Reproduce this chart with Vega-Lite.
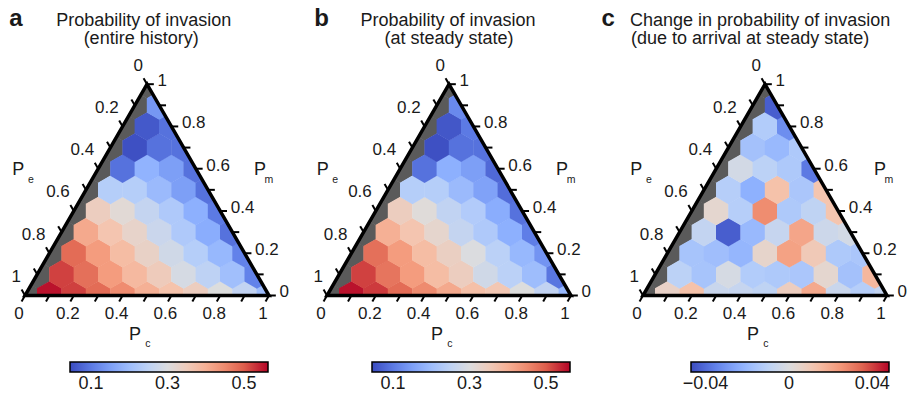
{
"$schema": "https://vega.github.io/schema/vega-lite/v6.json",
"padding": 0,
"spacing": 0,
"bounds": "flush",
"background": "white",
"config": {
  "view": {"stroke": null},
  "text": {"font": "Liberation Sans", "color": "#1a1a1a"},
  "legend": {"gradientStrokeColor": "black", "gradientStrokeWidth": 1.5, "gradientThickness": 10, "gradientLength": 198, "labelFontSize": 18, "labelFont": "Liberation Sans", "labelColor": "#1a1a1a", "labelOffset": 3, "direction": "horizontal", "orient": "none"}
},
"resolve": {"scale": {"color": "independent", "x": "independent"}, "legend": {"color": "independent"}},
"datasets": {
  "grey": [{"pc":0,"pm":0},{"pc":0,"pm":0.1},{"pc":0,"pm":0.2},{"pc":0,"pm":0.3},{"pc":0,"pm":0.4},{"pc":0,"pm":0.5},{"pc":0,"pm":0.6},{"pc":0,"pm":0.7},{"pc":0,"pm":0.8},{"pc":0,"pm":0.9},{"pc":0,"pm":1}],
  "mask": [{"part":"t","x":-0.1,"y":-0.1732,"y2":1.2},{"part":"t","x":0.5,"y":0.8660254,"y2":1.2},{"part":"t","x":1.1,"y":-0.1732,"y2":1.2},{"part":"b","x":-0.1,"y":-0.08,"y2":0},{"part":"b","x":1.1,"y":-0.08,"y2":0}],
  "border": [{"k":0,"x":0,"y":0},{"k":1,"x":1,"y":0},{"k":2,"x":0.5,"y":0.8660254},{"k":3,"x":0,"y":0},{"k":4,"x":1,"y":0}],
  "ticks": [
    {"side":"b","t":0},{"side":"b","t":0.1},{"side":"b","t":0.2},{"side":"b","t":0.3},{"side":"b","t":0.4},{"side":"b","t":0.5},{"side":"b","t":0.6},{"side":"b","t":0.7},{"side":"b","t":0.8},{"side":"b","t":0.9},{"side":"b","t":1},
    {"side":"r","t":0},{"side":"r","t":0.1},{"side":"r","t":0.2},{"side":"r","t":0.3},{"side":"r","t":0.4},{"side":"r","t":0.5},{"side":"r","t":0.6},{"side":"r","t":0.7},{"side":"r","t":0.8},{"side":"r","t":0.9},{"side":"r","t":1},
    {"side":"l","t":0},{"side":"l","t":0.1},{"side":"l","t":0.2},{"side":"l","t":0.3},{"side":"l","t":0.4},{"side":"l","t":0.5},{"side":"l","t":0.6},{"side":"l","t":0.7},{"side":"l","t":0.8},{"side":"l","t":0.9},{"side":"l","t":1}
  ],
  "tl": [
    {"side":"b","t":0},{"side":"b","t":0.2},{"side":"b","t":0.4},{"side":"b","t":0.6},{"side":"b","t":0.8},{"side":"b","t":1},
    {"side":"r","t":0},{"side":"r","t":0.2},{"side":"r","t":0.4},{"side":"r","t":0.6},{"side":"r","t":0.8},{"side":"r","t":1},
    {"side":"l","t":0},{"side":"l","t":0.2},{"side":"l","t":0.4},{"side":"l","t":0.6},{"side":"l","t":0.8},{"side":"l","t":1}
  ],
  "a": [
    {"pc":0.1,"pm":0,"v":0.553},{"pc":0.2,"pm":0,"v":0.521},{"pc":0.3,"pm":0,"v":0.485},{"pc":0.4,"pm":0,"v":0.449},{"pc":0.5,"pm":0,"v":0.40},{"pc":0.6,"pm":0,"v":0.37},{"pc":0.7,"pm":0,"v":0.345},{"pc":0.8,"pm":0,"v":0.303},{"pc":0.9,"pm":0,"v":0.256},{"pc":1,"pm":0,"v":0.20},
    {"pc":0.1,"pm":0.1,"v":0.52},{"pc":0.2,"pm":0.1,"v":0.48},{"pc":0.3,"pm":0.1,"v":0.43},{"pc":0.4,"pm":0.1,"v":0.385},{"pc":0.5,"pm":0.1,"v":0.35},{"pc":0.6,"pm":0.1,"v":0.29},{"pc":0.7,"pm":0.1,"v":0.25},{"pc":0.8,"pm":0.1,"v":0.205},{"pc":0.9,"pm":0.1,"v":0.11},
    {"pc":0.1,"pm":0.2,"v":0.485},{"pc":0.2,"pm":0.2,"v":0.43},{"pc":0.3,"pm":0.2,"v":0.38},{"pc":0.4,"pm":0.2,"v":0.335},{"pc":0.5,"pm":0.2,"v":0.28},{"pc":0.6,"pm":0.2,"v":0.235},{"pc":0.7,"pm":0.2,"v":0.19},{"pc":0.8,"pm":0.2,"v":0.11},
    {"pc":0.1,"pm":0.3,"v":0.41},{"pc":0.2,"pm":0.3,"v":0.365},{"pc":0.3,"pm":0.3,"v":0.33},{"pc":0.4,"pm":0.3,"v":0.27},{"pc":0.5,"pm":0.3,"v":0.225},{"pc":0.6,"pm":0.3,"v":0.17},{"pc":0.7,"pm":0.3,"v":0.09},
    {"pc":0.1,"pm":0.4,"v":0.345},{"pc":0.2,"pm":0.4,"v":0.315},{"pc":0.3,"pm":0.4,"v":0.26},{"pc":0.4,"pm":0.4,"v":0.225},{"pc":0.5,"pm":0.4,"v":0.175},{"pc":0.6,"pm":0.4,"v":0.10},
    {"pc":0.1,"pm":0.5,"v":0.235},{"pc":0.2,"pm":0.5,"v":0.235},{"pc":0.3,"pm":0.5,"v":0.195},{"pc":0.4,"pm":0.5,"v":0.15},{"pc":0.5,"pm":0.5,"v":0.09},
    {"pc":0.1,"pm":0.6,"v":0.09},{"pc":0.2,"pm":0.6,"v":0.18},{"pc":0.3,"pm":0.6,"v":0.15},{"pc":0.4,"pm":0.6,"v":0.09},
    {"pc":0.1,"pm":0.7,"v":0.05},{"pc":0.2,"pm":0.7,"v":0.09},{"pc":0.3,"pm":0.7,"v":0.09},
    {"pc":0.1,"pm":0.8,"v":0.06},{"pc":0.2,"pm":0.8,"v":0.09},
    {"pc":0.1,"pm":0.9,"v":0.14}
  ],
  "b": [
    {"pc":0.1,"pm":0,"v":0.553},{"pc":0.2,"pm":0,"v":0.525},{"pc":0.3,"pm":0,"v":0.485},{"pc":0.4,"pm":0,"v":0.45},{"pc":0.5,"pm":0,"v":0.41},{"pc":0.6,"pm":0,"v":0.375},{"pc":0.7,"pm":0,"v":0.36},{"pc":0.8,"pm":0,"v":0.303},{"pc":0.9,"pm":0,"v":0.256},{"pc":1,"pm":0,"v":0.19},
    {"pc":0.1,"pm":0.1,"v":0.52},{"pc":0.2,"pm":0.1,"v":0.475},{"pc":0.3,"pm":0.1,"v":0.43},{"pc":0.4,"pm":0.1,"v":0.38},{"pc":0.5,"pm":0.1,"v":0.345},{"pc":0.6,"pm":0.1,"v":0.28},{"pc":0.7,"pm":0.1,"v":0.245},{"pc":0.8,"pm":0.1,"v":0.20},{"pc":0.9,"pm":0.1,"v":0.095},
    {"pc":0.1,"pm":0.2,"v":0.48},{"pc":0.2,"pm":0.2,"v":0.43},{"pc":0.3,"pm":0.2,"v":0.38},{"pc":0.4,"pm":0.2,"v":0.34},{"pc":0.5,"pm":0.2,"v":0.30},{"pc":0.6,"pm":0.2,"v":0.245},{"pc":0.7,"pm":0.2,"v":0.19},{"pc":0.8,"pm":0.2,"v":0.135},
    {"pc":0.1,"pm":0.3,"v":0.40},{"pc":0.2,"pm":0.3,"v":0.365},{"pc":0.3,"pm":0.3,"v":0.325},{"pc":0.4,"pm":0.3,"v":0.26},{"pc":0.5,"pm":0.3,"v":0.225},{"pc":0.6,"pm":0.3,"v":0.175},{"pc":0.7,"pm":0.3,"v":0.105},
    {"pc":0.1,"pm":0.4,"v":0.345},{"pc":0.2,"pm":0.4,"v":0.31},{"pc":0.3,"pm":0.4,"v":0.255},{"pc":0.4,"pm":0.4,"v":0.23},{"pc":0.5,"pm":0.4,"v":0.17},{"pc":0.6,"pm":0.4,"v":0.09},
    {"pc":0.1,"pm":0.5,"v":0.235},{"pc":0.2,"pm":0.5,"v":0.235},{"pc":0.3,"pm":0.5,"v":0.195},{"pc":0.4,"pm":0.5,"v":0.155},{"pc":0.5,"pm":0.5,"v":0.085},
    {"pc":0.1,"pm":0.6,"v":0.09},{"pc":0.2,"pm":0.6,"v":0.175},{"pc":0.3,"pm":0.6,"v":0.15},{"pc":0.4,"pm":0.6,"v":0.08},
    {"pc":0.1,"pm":0.7,"v":0.05},{"pc":0.2,"pm":0.7,"v":0.09},{"pc":0.3,"pm":0.7,"v":0.09},
    {"pc":0.1,"pm":0.8,"v":0.058},{"pc":0.2,"pm":0.8,"v":0.10},
    {"pc":0.1,"pm":0.9,"v":0.12}
  ],
  "c": [
    {"pc":0.1,"pm":0,"v":0.006},{"pc":0.2,"pm":0,"v":0.013},{"pc":0.3,"pm":0,"v":-0.006},{"pc":0.4,"pm":0,"v":-0.007},{"pc":0.5,"pm":0,"v":-0.009},{"pc":0.6,"pm":0,"v":0.008},{"pc":0.7,"pm":0,"v":0.02},{"pc":0.8,"pm":0,"v":-0.006},{"pc":0.9,"pm":0,"v":-0.012},{"pc":1,"pm":0,"v":-0.008},
    {"pc":0.1,"pm":0.1,"v":-0.01},{"pc":0.2,"pm":0.1,"v":-0.016},{"pc":0.3,"pm":0.1,"v":-0.002},{"pc":0.4,"pm":0.1,"v":-0.013},{"pc":0.5,"pm":0.1,"v":-0.014},{"pc":0.6,"pm":0.1,"v":-0.015},{"pc":0.7,"pm":0.1,"v":0.004},{"pc":0.8,"pm":0.1,"v":-0.017},{"pc":0.9,"pm":0.1,"v":0.016},
    {"pc":0.1,"pm":0.2,"v":-0.016},{"pc":0.2,"pm":0.2,"v":-0.018},{"pc":0.3,"pm":0.2,"v":-0.021},{"pc":0.4,"pm":0.2,"v":0.005},{"pc":0.5,"pm":0.2,"v":0.022},{"pc":0.6,"pm":0.2,"v":0.01},{"pc":0.7,"pm":0.2,"v":-0.014},{"pc":0.8,"pm":0.2,"v":-0.015},
    {"pc":0.1,"pm":0.3,"v":-0.008},{"pc":0.2,"pm":0.3,"v":-0.043},{"pc":0.3,"pm":0.3,"v":-0.02},{"pc":0.4,"pm":0.3,"v":-0.007},{"pc":0.5,"pm":0.3,"v":0.021},{"pc":0.6,"pm":0.3,"v":-0.005},{"pc":0.7,"pm":0.3,"v":-0.003},
    {"pc":0.1,"pm":0.4,"v":0.004},{"pc":0.2,"pm":0.4,"v":-0.012},{"pc":0.3,"pm":0.4,"v":0.027},{"pc":0.4,"pm":0.4,"v":-0.014},{"pc":0.5,"pm":0.4,"v":-0.009},{"pc":0.6,"pm":0.4,"v":0.012},
    {"pc":0.1,"pm":0.5,"v":-0.012},{"pc":0.2,"pm":0.5,"v":-0.023},{"pc":0.3,"pm":0.5,"v":0.013},{"pc":0.4,"pm":0.5,"v":-0.015},{"pc":0.5,"pm":0.5,"v":0.012},
    {"pc":0.1,"pm":0.6,"v":-0.003},{"pc":0.2,"pm":0.6,"v":-0.01},{"pc":0.3,"pm":0.6,"v":-0.014},{"pc":0.4,"pm":0.6,"v":-0.037},
    {"pc":0.1,"pm":0.7,"v":-0.017},{"pc":0.2,"pm":0.7,"v":-0.02},{"pc":0.3,"pm":0.7,"v":-0.014},
    {"pc":0.1,"pm":0.8,"v":-0.013},{"pc":0.2,"pm":0.8,"v":-0.032},
    {"pc":0.1,"pm":0.9,"v":-0.043}
  ]
},
"hconcat": [
{
  "width": 302, "height": 395,
  "layer": [
    {"data": {"name": "grey"}, "transform": [{"calculate": "datum.pc + datum.pm/2", "as": "x"}, {"calculate": "datum.pm*0.8660254", "as": "y"}],
     "mark": {"type": "point", "shape": "M0,-1L0.866,-0.5L0.866,0.5L0,1L-0.866,0.5L-0.866,-0.5Z", "filled": true, "size": 820, "opacity": 1, "color": "#5a5a5a", "strokeWidth": 0},
     "encoding": {"x": {"field": "x", "type": "quantitative", "scale": {"domain": [-0.10246, 1.13525], "nice": false, "zero": false}, "axis": null}, "y": {"field": "y", "type": "quantitative", "scale": {"domain": [-0.40779, 1.21107], "nice": false, "zero": false}, "axis": null}}},
    {"data": {"name": "a"}, "transform": [{"calculate": "datum.pc + datum.pm/2", "as": "x"}, {"calculate": "datum.pm*0.8660254", "as": "y"}],
     "mark": {"type": "point", "shape": "M0,-1L0.866,-0.5L0.866,0.5L0,1L-0.866,0.5L-0.866,-0.5Z", "filled": true, "size": 820, "opacity": 1, "strokeWidth": 0},
     "encoding": {"x": {"field": "x", "type": "quantitative", "scale": {"domain": [-0.10246, 1.13525], "nice": false, "zero": false}, "axis": null}, "y": {"field": "y", "type": "quantitative", "scale": {"domain": [-0.40779, 1.21107], "nice": false, "zero": false}, "axis": null},
        "color": {"field": "v", "type": "quantitative",
        "scale": {"domain": [0.045, 0.563], "range": ["#3b4cc0", "#6282ea", "#8db0fe", "#b8d0f9", "#dddddd", "#f5c4ad", "#f49a7b", "#de604d", "#b40426"], "interpolate": "rgb"},
        "legend": {"title": null, "values": [0.1, 0.3, 0.5], "format": "~g", "legendX": 70, "legendY": 362, "labelFontSize": 18, "labelOffset": 3}}}},
    {"data": {"name": "mask"}, "mark": {"type": "area", "color": "white", "orient": "vertical"},
     "encoding": {"x": {"field": "x", "type": "quantitative", "scale": {"domain": [-0.10246, 1.13525], "nice": false, "zero": false}, "axis": null}, "y": {"field": "y", "type": "quantitative", "scale": {"domain": [-0.40779, 1.21107], "nice": false, "zero": false}, "axis": null}, "y2": {"field": "y2"}, "detail": {"field": "part"}}},
    {"data": {"name": "border"}, "mark": {"type": "line", "color": "black", "strokeWidth": 3.5, "strokeJoin": "miter", "strokeCap": "butt"},
     "encoding": {"x": {"field": "x", "type": "quantitative", "scale": {"domain": [-0.10246, 1.13525], "nice": false, "zero": false}, "axis": null}, "y": {"field": "y", "type": "quantitative", "scale": {"domain": [-0.40779, 1.21107], "nice": false, "zero": false}, "axis": null}, "order": {"field": "k", "type": "quantitative"}}},
    {"data": {"name": "ticks"}, "transform": [
        {"calculate": "datum.side=='b' ? datum.t : datum.side=='r' ? 1-datum.t/2 : (1-datum.t)/2", "as": "x"},
        {"calculate": "datum.side=='b' ? 0 : datum.side=='r' ? datum.t*0.8660254 : (1-datum.t)*0.8660254", "as": "y"},
        {"calculate": "datum.x + (datum.side=='r' ? 0.028 : -0.014)", "as": "x2"},
        {"calculate": "datum.y + (datum.side=='b' ? -0.02425 : datum.side=='r' ? 0 : 0.02425)", "as": "y2"}],
     "mark": {"type": "rule", "color": "black", "strokeWidth": 2},
     "encoding": {"x": {"field": "x", "type": "quantitative", "scale": {"domain": [-0.10246, 1.13525], "nice": false, "zero": false}, "axis": null}, "y": {"field": "y", "type": "quantitative", "scale": {"domain": [-0.40779, 1.21107], "nice": false, "zero": false}, "axis": null}, "x2": {"field": "x2"}, "y2": {"field": "y2"}}},
    {"data": {"name": "tl"}, "transform": [{"filter": "datum.side=='b'"}, {"calculate": "datum.t", "as": "x"}, {"calculate": "0", "as": "y"}],
     "mark": {"type": "text", "fontSize": 17, "align": "center", "baseline": "middle", "dx": -6, "dy": 19},
     "encoding": {"x": {"field": "x", "type": "quantitative", "scale": {"domain": [-0.10246, 1.13525], "nice": false, "zero": false}, "axis": null}, "y": {"field": "y", "type": "quantitative", "scale": {"domain": [-0.40779, 1.21107], "nice": false, "zero": false}, "axis": null}, "text": {"field": "t", "type": "quantitative", "format": "~g"}}},
    {"data": {"name": "tl"}, "transform": [{"filter": "datum.side=='r'"}, {"calculate": "1-datum.t/2", "as": "x"}, {"calculate": "datum.t*0.8660254", "as": "y"}],
     "mark": {"type": "text", "fontSize": 17, "align": "left", "baseline": "middle", "dx": 10.5, "dy": -3},
     "encoding": {"x": {"field": "x", "type": "quantitative", "scale": {"domain": [-0.10246, 1.13525], "nice": false, "zero": false}, "axis": null}, "y": {"field": "y", "type": "quantitative", "scale": {"domain": [-0.40779, 1.21107], "nice": false, "zero": false}, "axis": null}, "text": {"field": "t", "type": "quantitative", "format": "~g"}}},
    {"data": {"name": "tl"}, "transform": [{"filter": "datum.side=='l'"}, {"calculate": "(1-datum.t)/2", "as": "x"}, {"calculate": "(1-datum.t)*0.8660254", "as": "y"}],
     "mark": {"type": "text", "fontSize": 17, "align": "right", "baseline": "middle", "dx": -4, "dy": -18.5},
     "encoding": {"x": {"field": "x", "type": "quantitative", "scale": {"domain": [-0.10246, 1.13525], "nice": false, "zero": false}, "axis": null}, "y": {"field": "y", "type": "quantitative", "scale": {"domain": [-0.40779, 1.21107], "nice": false, "zero": false}, "axis": null}, "text": {"field": "t", "type": "quantitative", "format": "~g"}}},
    {"data": {"values": [{"s": "P"}]}, "mark": {"type": "text", "fontSize": 18, "align": "center", "baseline": "middle"}, "encoding": {"text": {"field": "s"}, "x": {"datum": -0.0275, "type": "quantitative", "axis": null}, "y": {"datum": 0.514, "type": "quantitative", "axis": null}}},
    {"data": {"values": [{"s": "e"}]}, "mark": {"type": "text", "fontSize": 10.5, "align": "center", "baseline": "middle"}, "encoding": {"text": {"field": "s"}, "x": {"datum": 0.0246, "type": "quantitative", "axis": null}, "y": {"datum": 0.475, "type": "quantitative", "axis": null}}},
    {"data": {"values": [{"s": "P"}]}, "mark": {"type": "text", "fontSize": 18, "align": "center", "baseline": "middle"}, "encoding": {"text": {"field": "s"}, "x": {"datum": 0.963, "type": "quantitative", "axis": null}, "y": {"datum": 0.514, "type": "quantitative", "axis": null}}},
    {"data": {"values": [{"s": "m"}]}, "mark": {"type": "text", "fontSize": 10.5, "align": "center", "baseline": "middle"}, "encoding": {"text": {"field": "s"}, "x": {"datum": 1.0, "type": "quantitative", "axis": null}, "y": {"datum": 0.475, "type": "quantitative", "axis": null}}},
    {"data": {"values": [{"s": "P"}]}, "mark": {"type": "text", "fontSize": 18, "align": "center", "baseline": "middle"}, "encoding": {"text": {"field": "s"}, "x": {"datum": 0.451, "type": "quantitative", "axis": null}, "y": {"datum": -0.162, "type": "quantitative", "axis": null}}},
    {"data": {"values": [{"s": "c"}]}, "mark": {"type": "text", "fontSize": 10.5, "align": "center", "baseline": "middle"}, "encoding": {"text": {"field": "s"}, "x": {"datum": 0.504, "type": "quantitative", "axis": null}, "y": {"datum": -0.198, "type": "quantitative", "axis": null}}},
    {"data": {"values": [{"s": "a"}]}, "mark": {"type": "text", "fontSize": 24, "fontWeight": "bold", "align": "center", "baseline": "alphabetic"}, "encoding": {"text": {"field": "s"}, "x": {"datum": -0.037, "type": "quantitative", "axis": null}, "y": {"datum": 1.1046, "type": "quantitative", "axis": null}}},
    {"data": {"values": [{"s": "Probability of invasion"}]}, "mark": {"type": "text", "fontSize": 18, "align": "center", "baseline": "alphabetic"}, "encoding": {"text": {"field": "s"}, "x": {"datum": 0.487, "type": "quantitative", "axis": null}, "y": {"datum": 1.1045, "type": "quantitative", "axis": null}}},
    {"data": {"values": [{"s": "(entire history)"}]}, "mark": {"type": "text", "fontSize": 18, "align": "center", "baseline": "alphabetic"}, "encoding": {"text": {"field": "s"}, "x": {"datum": 0.476, "type": "quantitative", "axis": null}, "y": {"datum": 1.029, "type": "quantitative", "axis": null}}}
  ]
},
{
  "width": 316, "height": 395,
  "layer": [
    {"data": {"name": "grey"}, "transform": [{"calculate": "datum.pc + datum.pm/2", "as": "x"}, {"calculate": "datum.pm*0.8660254", "as": "y"}],
     "mark": {"type": "point", "shape": "M0,-1L0.866,-0.5L0.866,0.5L0,1L-0.866,0.5L-0.866,-0.5Z", "filled": true, "size": 820, "opacity": 1, "color": "#5a5a5a", "strokeWidth": 0},
     "encoding": {"x": {"field": "x", "type": "quantitative", "scale": {"domain": [-0.10246, 1.19262], "nice": false, "zero": false}, "axis": null}, "y": {"field": "y", "type": "quantitative", "scale": {"domain": [-0.40779, 1.21107], "nice": false, "zero": false}, "axis": null}}},
    {"data": {"name": "b"}, "transform": [{"calculate": "datum.pc + datum.pm/2", "as": "x"}, {"calculate": "datum.pm*0.8660254", "as": "y"}],
     "mark": {"type": "point", "shape": "M0,-1L0.866,-0.5L0.866,0.5L0,1L-0.866,0.5L-0.866,-0.5Z", "filled": true, "size": 820, "opacity": 1, "strokeWidth": 0},
     "encoding": {"x": {"field": "x", "type": "quantitative", "scale": {"domain": [-0.10246, 1.19262], "nice": false, "zero": false}, "axis": null}, "y": {"field": "y", "type": "quantitative", "scale": {"domain": [-0.40779, 1.21107], "nice": false, "zero": false}, "axis": null},
        "color": {"field": "v", "type": "quantitative",
        "scale": {"domain": [0.045, 0.563], "range": ["#3b4cc0", "#6282ea", "#8db0fe", "#b8d0f9", "#dddddd", "#f5c4ad", "#f49a7b", "#de604d", "#b40426"], "interpolate": "rgb"},
        "legend": {"title": null, "values": [0.1, 0.3, 0.5], "format": "~g", "legendX": 70, "legendY": 362, "labelFontSize": 18, "labelOffset": 3}}}},
    {"data": {"name": "mask"}, "mark": {"type": "area", "color": "white", "orient": "vertical"},
     "encoding": {"x": {"field": "x", "type": "quantitative", "scale": {"domain": [-0.10246, 1.19262], "nice": false, "zero": false}, "axis": null}, "y": {"field": "y", "type": "quantitative", "scale": {"domain": [-0.40779, 1.21107], "nice": false, "zero": false}, "axis": null}, "y2": {"field": "y2"}, "detail": {"field": "part"}}},
    {"data": {"name": "border"}, "mark": {"type": "line", "color": "black", "strokeWidth": 3.5, "strokeJoin": "miter", "strokeCap": "butt"},
     "encoding": {"x": {"field": "x", "type": "quantitative", "scale": {"domain": [-0.10246, 1.19262], "nice": false, "zero": false}, "axis": null}, "y": {"field": "y", "type": "quantitative", "scale": {"domain": [-0.40779, 1.21107], "nice": false, "zero": false}, "axis": null}, "order": {"field": "k", "type": "quantitative"}}},
    {"data": {"name": "ticks"}, "transform": [
        {"calculate": "datum.side=='b' ? datum.t : datum.side=='r' ? 1-datum.t/2 : (1-datum.t)/2", "as": "x"},
        {"calculate": "datum.side=='b' ? 0 : datum.side=='r' ? datum.t*0.8660254 : (1-datum.t)*0.8660254", "as": "y"},
        {"calculate": "datum.x + (datum.side=='r' ? 0.028 : -0.014)", "as": "x2"},
        {"calculate": "datum.y + (datum.side=='b' ? -0.02425 : datum.side=='r' ? 0 : 0.02425)", "as": "y2"}],
     "mark": {"type": "rule", "color": "black", "strokeWidth": 2},
     "encoding": {"x": {"field": "x", "type": "quantitative", "scale": {"domain": [-0.10246, 1.19262], "nice": false, "zero": false}, "axis": null}, "y": {"field": "y", "type": "quantitative", "scale": {"domain": [-0.40779, 1.21107], "nice": false, "zero": false}, "axis": null}, "x2": {"field": "x2"}, "y2": {"field": "y2"}}},
    {"data": {"name": "tl"}, "transform": [{"filter": "datum.side=='b'"}, {"calculate": "datum.t", "as": "x"}, {"calculate": "0", "as": "y"}],
     "mark": {"type": "text", "fontSize": 17, "align": "center", "baseline": "middle", "dx": -6, "dy": 19},
     "encoding": {"x": {"field": "x", "type": "quantitative", "scale": {"domain": [-0.10246, 1.19262], "nice": false, "zero": false}, "axis": null}, "y": {"field": "y", "type": "quantitative", "scale": {"domain": [-0.40779, 1.21107], "nice": false, "zero": false}, "axis": null}, "text": {"field": "t", "type": "quantitative", "format": "~g"}}},
    {"data": {"name": "tl"}, "transform": [{"filter": "datum.side=='r'"}, {"calculate": "1-datum.t/2", "as": "x"}, {"calculate": "datum.t*0.8660254", "as": "y"}],
     "mark": {"type": "text", "fontSize": 17, "align": "left", "baseline": "middle", "dx": 10.5, "dy": -3},
     "encoding": {"x": {"field": "x", "type": "quantitative", "scale": {"domain": [-0.10246, 1.19262], "nice": false, "zero": false}, "axis": null}, "y": {"field": "y", "type": "quantitative", "scale": {"domain": [-0.40779, 1.21107], "nice": false, "zero": false}, "axis": null}, "text": {"field": "t", "type": "quantitative", "format": "~g"}}},
    {"data": {"name": "tl"}, "transform": [{"filter": "datum.side=='l'"}, {"calculate": "(1-datum.t)/2", "as": "x"}, {"calculate": "(1-datum.t)*0.8660254", "as": "y"}],
     "mark": {"type": "text", "fontSize": 17, "align": "right", "baseline": "middle", "dx": -4, "dy": -18.5},
     "encoding": {"x": {"field": "x", "type": "quantitative", "scale": {"domain": [-0.10246, 1.19262], "nice": false, "zero": false}, "axis": null}, "y": {"field": "y", "type": "quantitative", "scale": {"domain": [-0.40779, 1.21107], "nice": false, "zero": false}, "axis": null}, "text": {"field": "t", "type": "quantitative", "format": "~g"}}},
    {"data": {"values": [{"s": "P"}]}, "mark": {"type": "text", "fontSize": 18, "align": "center", "baseline": "middle"}, "encoding": {"text": {"field": "s"}, "x": {"datum": -0.0175, "type": "quantitative", "axis": null}, "y": {"datum": 0.514, "type": "quantitative", "axis": null}}},
    {"data": {"values": [{"s": "e"}]}, "mark": {"type": "text", "fontSize": 10.5, "align": "center", "baseline": "middle"}, "encoding": {"text": {"field": "s"}, "x": {"datum": 0.034, "type": "quantitative", "axis": null}, "y": {"datum": 0.475, "type": "quantitative", "axis": null}}},
    {"data": {"values": [{"s": "P"}]}, "mark": {"type": "text", "fontSize": 18, "align": "center", "baseline": "middle"}, "encoding": {"text": {"field": "s"}, "x": {"datum": 0.963, "type": "quantitative", "axis": null}, "y": {"datum": 0.514, "type": "quantitative", "axis": null}}},
    {"data": {"values": [{"s": "m"}]}, "mark": {"type": "text", "fontSize": 10.5, "align": "center", "baseline": "middle"}, "encoding": {"text": {"field": "s"}, "x": {"datum": 1.0, "type": "quantitative", "axis": null}, "y": {"datum": 0.475, "type": "quantitative", "axis": null}}},
    {"data": {"values": [{"s": "P"}]}, "mark": {"type": "text", "fontSize": 18, "align": "center", "baseline": "middle"}, "encoding": {"text": {"field": "s"}, "x": {"datum": 0.451, "type": "quantitative", "axis": null}, "y": {"datum": -0.162, "type": "quantitative", "axis": null}}},
    {"data": {"values": [{"s": "c"}]}, "mark": {"type": "text", "fontSize": 10.5, "align": "center", "baseline": "middle"}, "encoding": {"text": {"field": "s"}, "x": {"datum": 0.504, "type": "quantitative", "axis": null}, "y": {"datum": -0.198, "type": "quantitative", "axis": null}}},
    {"data": {"values": [{"s": "b"}]}, "mark": {"type": "text", "fontSize": 24, "fontWeight": "bold", "align": "center", "baseline": "alphabetic"}, "encoding": {"text": {"field": "s"}, "x": {"datum": -0.022, "type": "quantitative", "axis": null}, "y": {"datum": 1.1046, "type": "quantitative", "axis": null}}},
    {"data": {"values": [{"s": "Probability of invasion"}]}, "mark": {"type": "text", "fontSize": 18, "align": "center", "baseline": "alphabetic"}, "encoding": {"text": {"field": "s"}, "x": {"datum": 0.496, "type": "quantitative", "axis": null}, "y": {"datum": 1.1045, "type": "quantitative", "axis": null}}},
    {"data": {"values": [{"s": "(at steady state)"}]}, "mark": {"type": "text", "fontSize": 18, "align": "center", "baseline": "alphabetic"}, "encoding": {"text": {"field": "s"}, "x": {"datum": 0.5, "type": "quantitative", "axis": null}, "y": {"datum": 1.029, "type": "quantitative", "axis": null}}}
  ]
},
{
  "width": 294, "height": 395,
  "layer": [
    {"data": {"name": "grey"}, "transform": [{"calculate": "datum.pc + datum.pm/2", "as": "x"}, {"calculate": "datum.pm*0.8660254", "as": "y"}],
     "mark": {"type": "point", "shape": "M0,-1L0.866,-0.5L0.866,0.5L0,1L-0.866,0.5L-0.866,-0.5Z", "filled": true, "size": 820, "opacity": 1, "color": "#5a5a5a", "strokeWidth": 0},
     "encoding": {"x": {"field": "x", "type": "quantitative", "scale": {"domain": [-0.10246, 1.10246], "nice": false, "zero": false}, "axis": null}, "y": {"field": "y", "type": "quantitative", "scale": {"domain": [-0.40779, 1.21107], "nice": false, "zero": false}, "axis": null}}},
    {"data": {"name": "c"}, "transform": [{"calculate": "datum.pc + datum.pm/2", "as": "x"}, {"calculate": "datum.pm*0.8660254", "as": "y"}],
     "mark": {"type": "point", "shape": "M0,-1L0.866,-0.5L0.866,0.5L0,1L-0.866,0.5L-0.866,-0.5Z", "filled": true, "size": 820, "opacity": 1, "strokeWidth": 0},
     "encoding": {"x": {"field": "x", "type": "quantitative", "scale": {"domain": [-0.10246, 1.10246], "nice": false, "zero": false}, "axis": null}, "y": {"field": "y", "type": "quantitative", "scale": {"domain": [-0.40779, 1.21107], "nice": false, "zero": false}, "axis": null},
        "color": {"field": "v", "type": "quantitative",
        "scale": {"domain": [-0.047, 0.048], "range": ["#3b4cc0", "#6282ea", "#8db0fe", "#b8d0f9", "#dddddd", "#f5c4ad", "#f49a7b", "#de604d", "#b40426"], "interpolate": "rgb"},
        "legend": {"title": null, "values": [-0.04, 0, 0.04], "format": "~g", "legendX": 73, "legendY": 362, "labelFontSize": 18, "labelOffset": 3}}}},
    {"data": {"name": "mask"}, "mark": {"type": "area", "color": "white", "orient": "vertical"},
     "encoding": {"x": {"field": "x", "type": "quantitative", "scale": {"domain": [-0.10246, 1.10246], "nice": false, "zero": false}, "axis": null}, "y": {"field": "y", "type": "quantitative", "scale": {"domain": [-0.40779, 1.21107], "nice": false, "zero": false}, "axis": null}, "y2": {"field": "y2"}, "detail": {"field": "part"}}},
    {"data": {"name": "border"}, "mark": {"type": "line", "color": "black", "strokeWidth": 3.5, "strokeJoin": "miter", "strokeCap": "butt"},
     "encoding": {"x": {"field": "x", "type": "quantitative", "scale": {"domain": [-0.10246, 1.10246], "nice": false, "zero": false}, "axis": null}, "y": {"field": "y", "type": "quantitative", "scale": {"domain": [-0.40779, 1.21107], "nice": false, "zero": false}, "axis": null}, "order": {"field": "k", "type": "quantitative"}}},
    {"data": {"name": "ticks"}, "transform": [
        {"calculate": "datum.side=='b' ? datum.t : datum.side=='r' ? 1-datum.t/2 : (1-datum.t)/2", "as": "x"},
        {"calculate": "datum.side=='b' ? 0 : datum.side=='r' ? datum.t*0.8660254 : (1-datum.t)*0.8660254", "as": "y"},
        {"calculate": "datum.x + (datum.side=='r' ? 0.028 : -0.014)", "as": "x2"},
        {"calculate": "datum.y + (datum.side=='b' ? -0.02425 : datum.side=='r' ? 0 : 0.02425)", "as": "y2"}],
     "mark": {"type": "rule", "color": "black", "strokeWidth": 2},
     "encoding": {"x": {"field": "x", "type": "quantitative", "scale": {"domain": [-0.10246, 1.10246], "nice": false, "zero": false}, "axis": null}, "y": {"field": "y", "type": "quantitative", "scale": {"domain": [-0.40779, 1.21107], "nice": false, "zero": false}, "axis": null}, "x2": {"field": "x2"}, "y2": {"field": "y2"}}},
    {"data": {"name": "tl"}, "transform": [{"filter": "datum.side=='b'"}, {"calculate": "datum.t", "as": "x"}, {"calculate": "0", "as": "y"}],
     "mark": {"type": "text", "fontSize": 17, "align": "center", "baseline": "middle", "dx": -6, "dy": 19},
     "encoding": {"x": {"field": "x", "type": "quantitative", "scale": {"domain": [-0.10246, 1.10246], "nice": false, "zero": false}, "axis": null}, "y": {"field": "y", "type": "quantitative", "scale": {"domain": [-0.40779, 1.21107], "nice": false, "zero": false}, "axis": null}, "text": {"field": "t", "type": "quantitative", "format": "~g"}}},
    {"data": {"name": "tl"}, "transform": [{"filter": "datum.side=='r'"}, {"calculate": "1-datum.t/2", "as": "x"}, {"calculate": "datum.t*0.8660254", "as": "y"}],
     "mark": {"type": "text", "fontSize": 17, "align": "left", "baseline": "middle", "dx": 10.5, "dy": -3},
     "encoding": {"x": {"field": "x", "type": "quantitative", "scale": {"domain": [-0.10246, 1.10246], "nice": false, "zero": false}, "axis": null}, "y": {"field": "y", "type": "quantitative", "scale": {"domain": [-0.40779, 1.21107], "nice": false, "zero": false}, "axis": null}, "text": {"field": "t", "type": "quantitative", "format": "~g"}}},
    {"data": {"name": "tl"}, "transform": [{"filter": "datum.side=='l'"}, {"calculate": "(1-datum.t)/2", "as": "x"}, {"calculate": "(1-datum.t)*0.8660254", "as": "y"}],
     "mark": {"type": "text", "fontSize": 17, "align": "right", "baseline": "middle", "dx": -4, "dy": -18.5},
     "encoding": {"x": {"field": "x", "type": "quantitative", "scale": {"domain": [-0.10246, 1.10246], "nice": false, "zero": false}, "axis": null}, "y": {"field": "y", "type": "quantitative", "scale": {"domain": [-0.40779, 1.21107], "nice": false, "zero": false}, "axis": null}, "text": {"field": "t", "type": "quantitative", "format": "~g"}}},
    {"data": {"values": [{"s": "P"}]}, "mark": {"type": "text", "fontSize": 18, "align": "center", "baseline": "middle"}, "encoding": {"text": {"field": "s"}, "x": {"datum": -0.0275, "type": "quantitative", "axis": null}, "y": {"datum": 0.514, "type": "quantitative", "axis": null}}},
    {"data": {"values": [{"s": "e"}]}, "mark": {"type": "text", "fontSize": 10.5, "align": "center", "baseline": "middle"}, "encoding": {"text": {"field": "s"}, "x": {"datum": 0.0246, "type": "quantitative", "axis": null}, "y": {"datum": 0.475, "type": "quantitative", "axis": null}}},
    {"data": {"values": [{"s": "P"}]}, "mark": {"type": "text", "fontSize": 18, "align": "center", "baseline": "middle"}, "encoding": {"text": {"field": "s"}, "x": {"datum": 0.971, "type": "quantitative", "axis": null}, "y": {"datum": 0.514, "type": "quantitative", "axis": null}}},
    {"data": {"values": [{"s": "m"}]}, "mark": {"type": "text", "fontSize": 10.5, "align": "center", "baseline": "middle"}, "encoding": {"text": {"field": "s"}, "x": {"datum": 1.008, "type": "quantitative", "axis": null}, "y": {"datum": 0.475, "type": "quantitative", "axis": null}}},
    {"data": {"values": [{"s": "P"}]}, "mark": {"type": "text", "fontSize": 18, "align": "center", "baseline": "middle"}, "encoding": {"text": {"field": "s"}, "x": {"datum": 0.451, "type": "quantitative", "axis": null}, "y": {"datum": -0.162, "type": "quantitative", "axis": null}}},
    {"data": {"values": [{"s": "c"}]}, "mark": {"type": "text", "fontSize": 10.5, "align": "center", "baseline": "middle"}, "encoding": {"text": {"field": "s"}, "x": {"datum": 0.504, "type": "quantitative", "axis": null}, "y": {"datum": -0.198, "type": "quantitative", "axis": null}}},
    {"data": {"values": [{"s": "c"}]}, "mark": {"type": "text", "fontSize": 24, "fontWeight": "bold", "align": "center", "baseline": "alphabetic"}, "encoding": {"text": {"field": "s"}, "x": {"datum": -0.143, "type": "quantitative", "axis": null}, "y": {"datum": 1.1046, "type": "quantitative", "axis": null}}},
    {"data": {"values": [{"s": "Change in probability of invasion"}]}, "mark": {"type": "text", "fontSize": 18, "align": "center", "baseline": "alphabetic"}, "encoding": {"text": {"field": "s"}, "x": {"datum": 0.48, "type": "quantitative", "axis": null}, "y": {"datum": 1.1045, "type": "quantitative", "axis": null}}},
    {"data": {"values": [{"s": "(due to arrival at steady state)"}]}, "mark": {"type": "text", "fontSize": 18, "align": "center", "baseline": "alphabetic"}, "encoding": {"text": {"field": "s"}, "x": {"datum": 0.439, "type": "quantitative", "axis": null}, "y": {"datum": 1.029, "type": "quantitative", "axis": null}}}
  ]
}
]
}
